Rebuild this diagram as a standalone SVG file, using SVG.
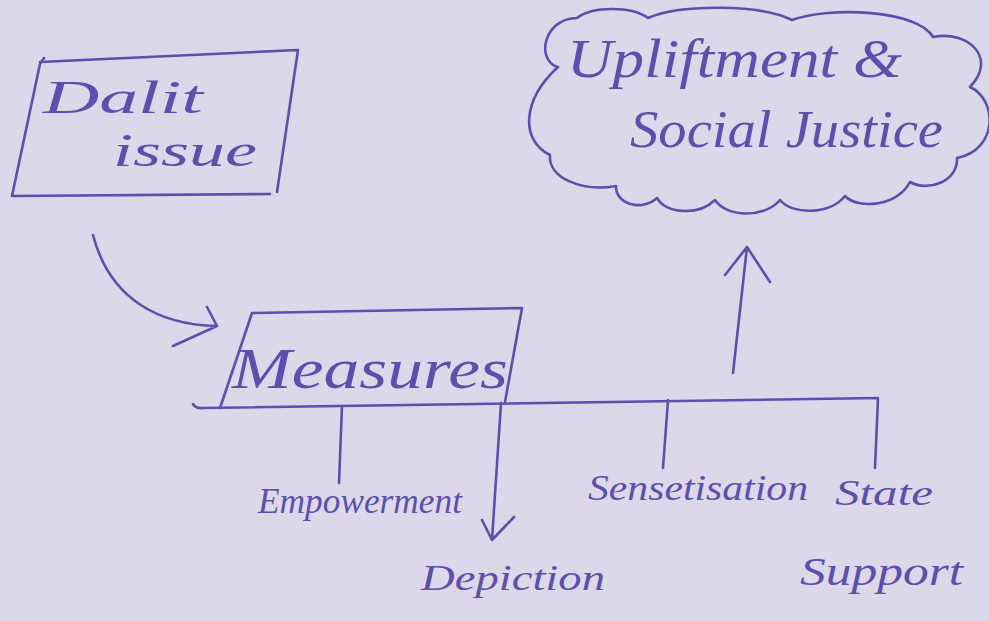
<svg xmlns="http://www.w3.org/2000/svg" width="989" height="621" viewBox="0 0 989 621">
<style>
.ink{fill:none;stroke:#5c4fae;stroke-width:2.6;stroke-linecap:round;stroke-linejoin:round}
.t{font-family:"Liberation Serif","DejaVu Serif",serif;font-style:italic;fill:#5c4fae}
</style>
<rect width="989" height="621" fill="#dcd7e9"/>
<g id="dalit-issue">
<path class="ink" d="M44 58 L40 64 L12 196 L270 194 M40 62 L298 50 L277 192"/>
<text class="t" x="43" y="113" font-size="47" textLength="160" lengthAdjust="spacingAndGlyphs">Dalit</text>
<text class="t" x="113" y="166" font-size="47" textLength="144" lengthAdjust="spacingAndGlyphs">issue</text>
</g>
<g id="upliftment">
<path class="ink" d="M557 67 C535 58 545 18 577 18 C592 6 632 6 648 18 C680 4 760 4 792 20 C830 6 918 10 933 37 C968 30 998 58 970 87 C998 100 998 150 957 158 C958 182 928 192 910 182 C898 206 858 210 845 196 C830 215 792 215 780 200 C765 218 727 218 715 200 C700 215 667 215 657 198 C642 212 615 204 616 186 C582 192 548 178 550 155 C520 140 522 100 558 67"/>
<text class="t" x="567" y="77" font-size="54" textLength="335" lengthAdjust="spacingAndGlyphs">Upliftment &amp;</text>
<text class="t" x="630" y="147" font-size="52" textLength="313" lengthAdjust="spacingAndGlyphs">Social Justice</text>
</g>
<g id="measures">
<path class="ink" d="M220 408 L252 313 L522 308 L505 402"/>
<text class="t" x="232" y="388" font-size="56" textLength="276" lengthAdjust="spacingAndGlyphs">Measures</text>
</g>
<g id="empowerment">
<text class="t" x="258" y="513" font-size="36" textLength="204" lengthAdjust="spacingAndGlyphs">Empowerment</text>
</g>
<g id="depiction">
<text class="t" x="421" y="590" font-size="36" textLength="184" lengthAdjust="spacingAndGlyphs">Depiction</text>
</g>
<g id="sensetisation">
<text class="t" x="588" y="500" font-size="36" textLength="220" lengthAdjust="spacingAndGlyphs">Sensetisation</text>
</g>
<g id="state-support">
<text class="t" x="835" y="505" font-size="36" textLength="98" lengthAdjust="spacingAndGlyphs">State</text>
<text class="t" x="800" y="585" font-size="40" textLength="163" lengthAdjust="spacingAndGlyphs">Support</text>
</g>
<g id="connectors">
<path class="ink" d="M93 235 C110 300 160 325 217 326 M207 307 L217 326 L173 346"/>
<path class="ink" d="M193 404 Q196 409 203 408 L878 398 L875 468"/>
<path class="ink" d="M342 406 L339 483"/>
<path class="ink" d="M501 403 L492 540 M482 520 L492 540 L514 517"/>
<path class="ink" d="M668 400 L663 468"/>
<path class="ink" d="M733 373 L747 247 M725 275 L747 247 L770 282"/>
</g>
</svg>
